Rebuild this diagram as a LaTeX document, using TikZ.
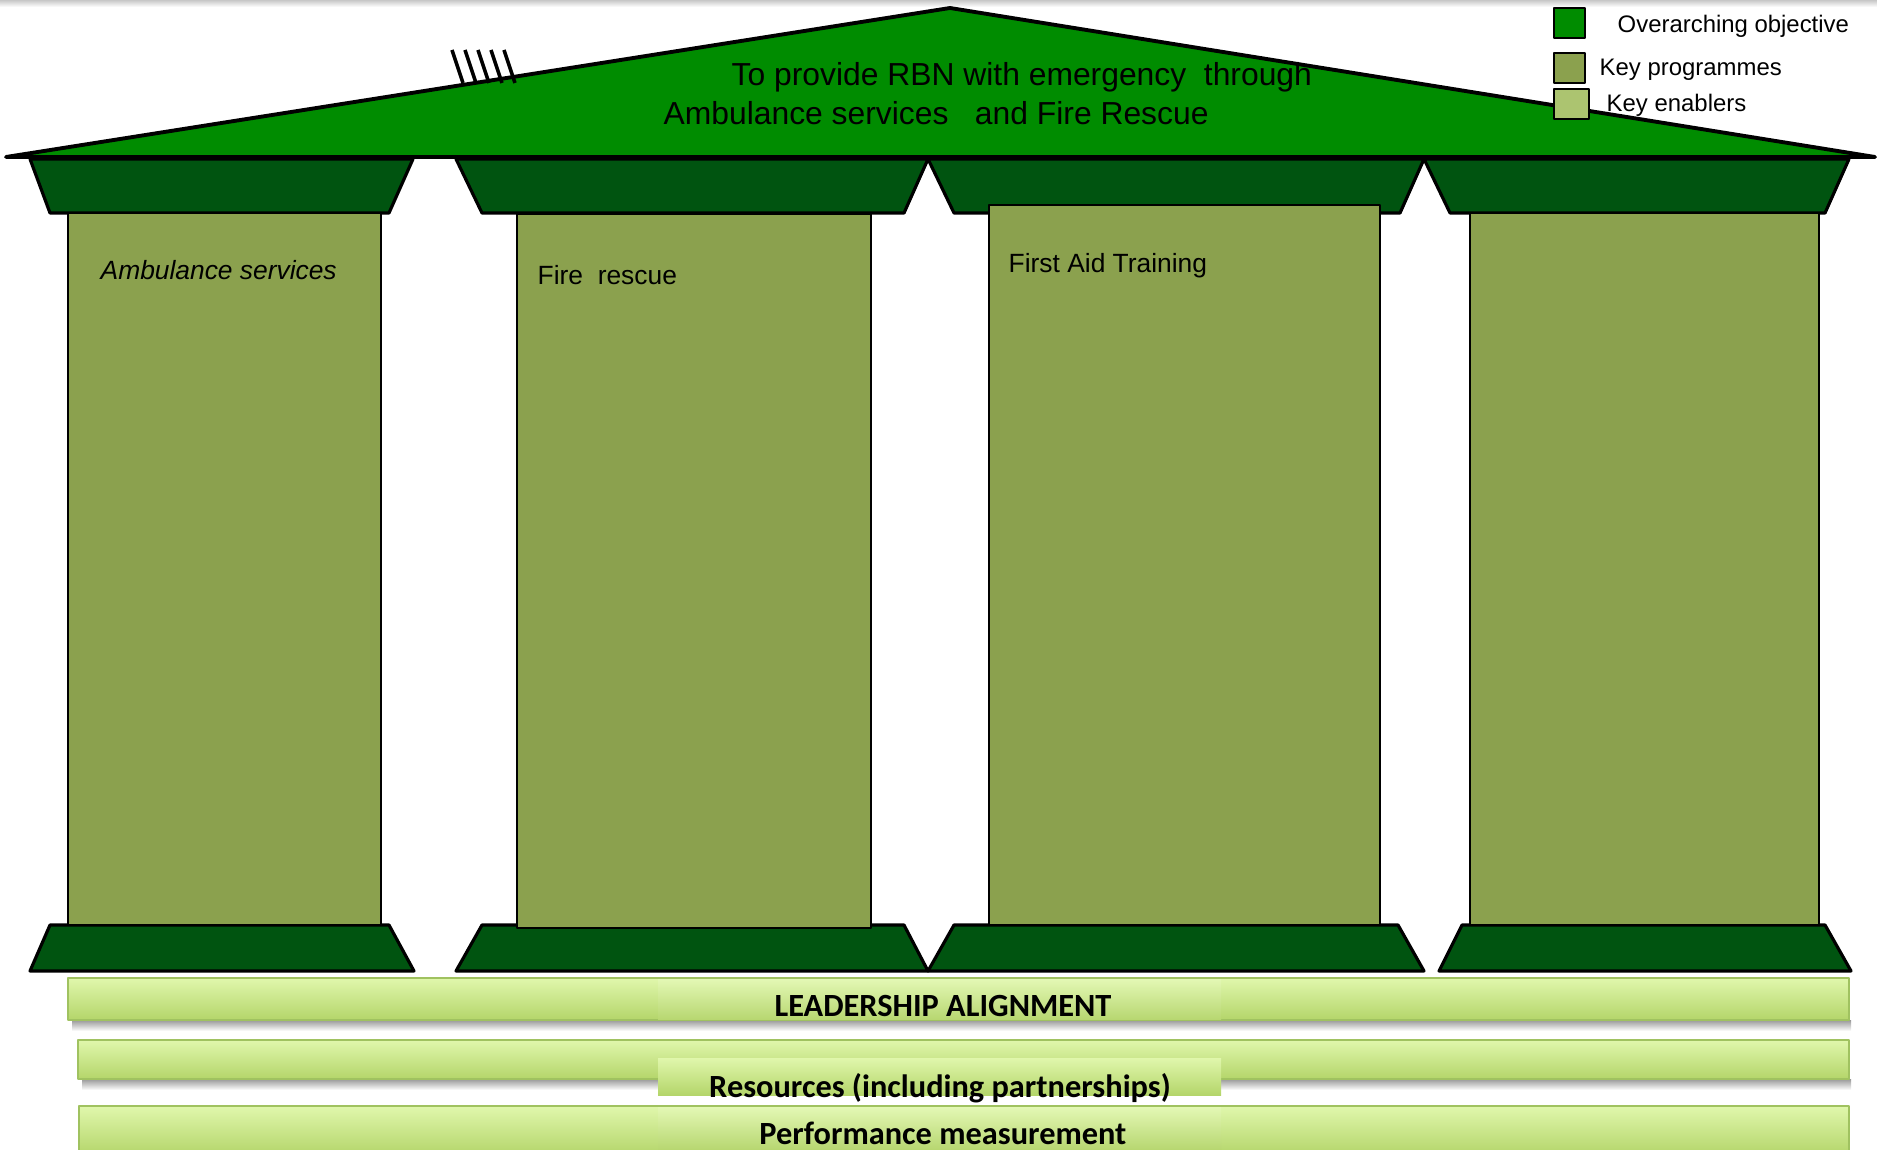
\documentclass[tikz,border=0pt]{standalone}
\usepackage{fontspec}
\setmainfont{Liberation Sans}
\newfontfamily\barfont{Carlito}
\definecolor{roofgreen}{RGB}{0,140,0}
\definecolor{capgreen}{RGB}{0,84,16}
\definecolor{pillar}{RGB}{139,161,78}
\definecolor{enabler}{RGB}{172,196,112}
\definecolor{bartop}{RGB}{224,247,172}
\definecolor{barbottom}{RGB}{180,213,106}
\definecolor{barline}{RGB}{160,194,96}
\begin{document}
\begin{tikzpicture}[x=0.01cm, y=-0.01cm, line join=round, font=\fontsize{7.5}{9}\selectfont,
	capital/.style={draw=black, fill=capgreen, line width=0.9pt},
	shaft/.style={draw=black, fill=pillar, line width=0.8pt},
	bar/.style={draw=barline, line width=0.7pt, top color=bartop, bottom color=barbottom},
	barshadow/.style={top color=black!40, bottom color=white},
	bartext/.style={font=\barfont\bfseries\fontsize{9.2}{11}\selectfont, inner sep=0pt},
	label/.style={anchor=west, inner sep=0pt},
	legbox/.style={draw=black, line width=0.8pt}]
	\useasboundingbox (0,0) rectangle (1877,1149);
	\shade[top color=black!22, bottom color=white] (0,0) rectangle (1877,7);
	\coordinate (L) at (6,157);
	\coordinate (T) at (950,8);
	\coordinate (R) at (1875,157);
	\foreach \a/\b/\c/\d in {30/413/50/389,456/928/482/904,928/1424/954/1400,1424/1849/1450/1825}
	\draw[capital] (\a,159)--(\b,159)--(\d,213)--(\c,213)--cycle;
	\draw[fill=roofgreen, line width=1.1pt] (L)--(T)--(R)--cycle;
	\foreach \i in {0,...,4}
	\draw[line width=1pt] (452+13*\i,50)--(463+13*\i,83);
	\foreach \a/\b/\c/\d in {50/389/30/414,482/904/456/928,954/1398/928/1424,1462/1825/1439/1851}
	\draw[capital] (\a,925)--(\b,925)--(\d,971)--(\c,971)--cycle;
	\draw[shaft] (68,213) rectangle (381,925);
	\draw[shaft] (517,214) rectangle (871,928);
	\draw[shaft] (989,205) rectangle (1380,925);
	\draw[shaft] (1470,213) rectangle (1819,925);
	\shade[barshadow] (72,1020) rectangle (1851,1031);
	\shade[barshadow] (82,1079) rectangle (1851,1090);
	\draw[bar] (68,978) rectangle (1849,1020);
	\draw[bar] (78,1040) rectangle (1849,1079);
	\draw[bar] (79,1106) rectangle (1849,1155);
	\shade[top color=bartop!90!white, bottom color=barbottom!95!white] (658,979) rectangle (1221,1019);
	\shade[top color=bartop, bottom color=barbottom] (658,1058) rectangle (1221,1095);
	\shade[top color=bartop!90!white, bottom color=barbottom!95!white] (658,1107) rectangle (1221,1149);
	\foreach \y/\c/\w in {8/roofgreen/1585,53/pillar/1585,89/enabler/1589}
	\draw[legbox, fill=\c] (1554,\y) rectangle (\w,\y+30);
	\node[label, font=\fontsize{9.05}{11}\selectfont] (roofa) at (731,77) {To provide RBN with emergency\ \ through};
	\node[label, font=\fontsize{9.05}{11}\selectfont] (roofb) at (663,113) {Ambulance services\ \ \ and Fire Rescue};
	\node[label, font=\fontsize{7.5}{9}\selectfont\itshape] (ambulance) at (100,270) {Ambulance services};
	\node[label] (fire) at (537,275) {Fire\ \ rescue};
	\node[label] (firstaid) at (1008,266) {First Aid Training};
	\node[label, font=\fontsize{6.8}{8}\selectfont] (legobj) at (1617,26) {Overarching objective};
	\node[label, font=\fontsize{6.8}{8}\selectfont] (legprog) at (1599,70) {Key programmes};
	\node[label, font=\fontsize{6.8}{8}\selectfont] (legenab) at (1606,105) {Key enablers};
	\node[bartext] (leader) at (943,1006) {LEADERSHIP ALIGNMENT};
	\node[bartext] (resource) at (940,1088) {Resources (including partnerships)};
	\node[bartext] (perform) at (943,1133) {Performance measurement};
\end{tikzpicture}
\end{document}
